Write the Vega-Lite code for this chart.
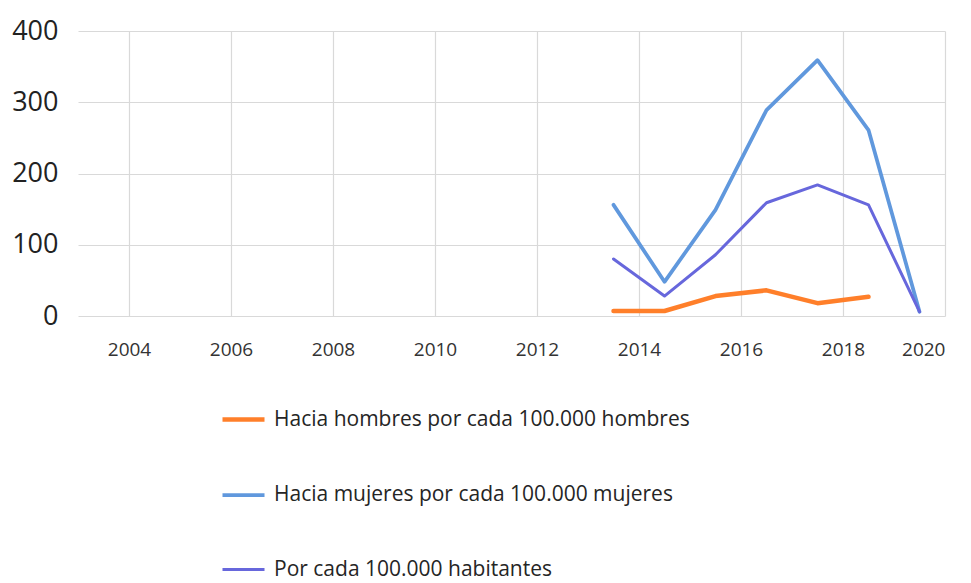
{
  "$schema": "https://vega.github.io/schema/vega-lite/v6.json",
  "width": 867,
  "height": 285,
  "autosize": {"type": "none"},
  "padding": {"left": 78, "top": 31, "right": 26, "bottom": 267},
  "background": "white",
  "config": {
    "view": {"stroke": null},
    "font": "Open Sans"
  },
  "data": {
    "values": [
      {"year": 2013.5, "value": 7, "serie": "Hacia hombres por cada 100.000 hombres"},
      {"year": 2014.5, "value": 7, "serie": "Hacia hombres por cada 100.000 hombres"},
      {"year": 2015.5, "value": 28, "serie": "Hacia hombres por cada 100.000 hombres"},
      {"year": 2016.5, "value": 36, "serie": "Hacia hombres por cada 100.000 hombres"},
      {"year": 2017.5, "value": 18, "serie": "Hacia hombres por cada 100.000 hombres"},
      {"year": 2018.5, "value": 27, "serie": "Hacia hombres por cada 100.000 hombres"},
      {"year": 2013.5, "value": 156, "serie": "Hacia mujeres por cada 100.000 mujeres"},
      {"year": 2014.5, "value": 48, "serie": "Hacia mujeres por cada 100.000 mujeres"},
      {"year": 2015.5, "value": 149, "serie": "Hacia mujeres por cada 100.000 mujeres"},
      {"year": 2016.5, "value": 289, "serie": "Hacia mujeres por cada 100.000 mujeres"},
      {"year": 2017.5, "value": 359, "serie": "Hacia mujeres por cada 100.000 mujeres"},
      {"year": 2018.5, "value": 261, "serie": "Hacia mujeres por cada 100.000 mujeres"},
      {"year": 2019.5, "value": 6, "serie": "Hacia mujeres por cada 100.000 mujeres"},
      {"year": 2013.5, "value": 80, "serie": "Por cada 100.000 habitantes"},
      {"year": 2014.5, "value": 28, "serie": "Por cada 100.000 habitantes"},
      {"year": 2015.5, "value": 86, "serie": "Por cada 100.000 habitantes"},
      {"year": 2016.5, "value": 159, "serie": "Por cada 100.000 habitantes"},
      {"year": 2017.5, "value": 184, "serie": "Por cada 100.000 habitantes"},
      {"year": 2018.5, "value": 156, "serie": "Por cada 100.000 habitantes"},
      {"year": 2019.5, "value": 6, "serie": "Por cada 100.000 habitantes"}
    ]
  },
  "mark": {"type": "line", "strokeCap": "round", "strokeJoin": "round"},
  "encoding": {
    "x": {
      "field": "year",
      "type": "quantitative",
      "scale": {"domain": [2003, 2020], "nice": false, "zero": false},
      "axis": {
        "title": null,
        "values": [2004, 2006, 2008, 2010, 2012, 2014, 2016, 2018, 2020],
        "format": "d",
        "domain": false,
        "ticks": false,
        "labelFontSize": 19,
        "labelColor": "#333333",
        "labelPadding": 24,
        "gridColor": "#d9d9d9",
        "gridWidth": 1.2
      }
    },
    "y": {
      "field": "value",
      "type": "quantitative",
      "scale": {"domain": [0, 400], "nice": false},
      "axis": {
        "title": null,
        "values": [0, 100, 200, 300, 400],
        "domain": false,
        "ticks": false,
        "labelFontSize": 27,
        "labelColor": "#222222",
        "labelPadding": 20,
        "gridColor": "#d9d9d9",
        "gridWidth": 1.2
      }
    },
    "color": {
      "field": "serie",
      "type": "nominal",
      "scale": {
        "domain": ["Hacia hombres por cada 100.000 hombres", "Hacia mujeres por cada 100.000 mujeres", "Por cada 100.000 habitantes"],
        "range": ["#ff7f2a", "#6098dd", "#6767dc"]
      },
      "legend": {
        "title": null,
        "orient": "none",
        "legendX": 142,
        "legendY": 365,
        "direction": "vertical",
        "symbolType": "stroke",
        "symbolSize": 1764,
        "symbolStrokeWidth": 3,
        "labelFontSize": 21,
        "labelColor": "#252525",
        "labelOffset": 7,
        "rowPadding": 42,
        "padding": 0,
        "labelLimit": 600
      }
    },
    "strokeWidth": {
      "field": "serie",
      "type": "nominal",
      "scale": {
        "domain": ["Hacia hombres por cada 100.000 hombres", "Hacia mujeres por cada 100.000 mujeres", "Por cada 100.000 habitantes"],
        "range": [4.5, 3, 3]
      },
      "legend": null
    }
  }
}
